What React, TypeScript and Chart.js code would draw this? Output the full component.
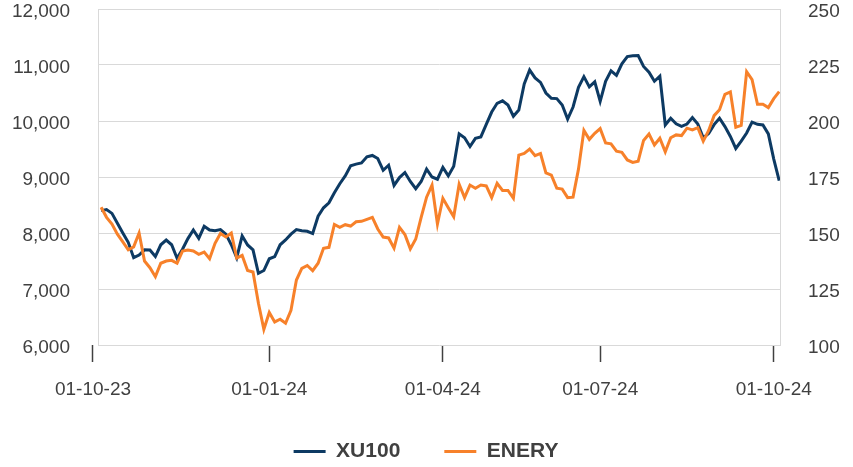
import { useEffect, useRef } from 'react';
import { Chart, registerables } from 'chart.js';

Chart.register(...registerables);

// Trading-day index of the first sample, and spacing (in trading days) between samples
const FIRST_DAY = 3;
const DAY_STEP = 2;

const SERIES_NAMES = ['XU100', 'ENERY'];

// XU100 index level (left axis)
const XU100 = [
  8400, 8420, 8350, 8173, 8000, 7833, 7560, 7607, 7700, 7696,
  7580, 7790, 7875, 7790, 7550, 7710, 7900, 8054, 7905, 8120,
  8054, 8040, 8060, 7980, 7790, 7560, 7950, 7786, 7700, 7280,
  7330, 7540, 7580, 7790, 7875, 7980, 8060, 8042, 8030, 7990,
  8300, 8450, 8540, 8720, 8880, 9020, 9200, 9230, 9250, 9360,
  9385, 9330, 9120, 9210, 8850, 8990, 9080, 8920, 8790, 8920,
  9140, 9000, 8960, 9170, 9020, 9190, 9770, 9700, 9545, 9690,
  9715, 9940, 10160, 10316, 10360, 10286, 10085, 10196, 10660, 10910,
  10770, 10690, 10500, 10405, 10400, 10286, 10035, 10250, 10600, 10792,
  10610, 10700, 10350, 10710, 10895, 10815, 11020, 11150, 11165, 11170,
  10975, 10870, 10710, 10800, 9929, 10048, 9950, 9905, 9946, 10060,
  9945, 9700, 9775, 9935, 10050, 9900, 9725, 9510, 9640, 9785,
  9980, 9940, 9930, 9770, 9320, 8935,
];

// ENERY index level (right axis)
const ENERY = [
  161.5, 157.0, 154.0, 149.5, 146.0, 142.5, 143.8, 150.0, 137.5, 134.5,
  130.5, 136.5, 137.5, 137.8, 136.5, 141.9, 142.4, 142.0, 140.5, 141.5,
  138.5, 145.4, 149.8, 148.2, 150.0, 138.8, 140.0, 133.3, 132.6, 118.6,
  107.0, 114.5, 110.3, 111.5, 109.7, 115.5, 129.0, 134.2, 135.5, 133.2,
  136.5, 143.2, 143.6, 153.8, 152.5, 153.7, 153.1, 155.0, 155.2, 156.1,
  157.0, 151.8, 148.2, 147.8, 143.2, 152.5, 149.3, 142.9, 147.3, 157.0,
  166.0, 171.4, 154.0, 165.5, 161.3, 157.3, 171.8, 165.8, 171.4, 170.0,
  171.4, 171.0, 165.8, 172.2, 169.0, 169.0, 165.5, 184.8, 185.5, 187.5,
  184.5, 185.5, 176.8, 175.8, 170.0, 169.6, 165.8, 166.0, 178.5, 195.8,
  191.8, 194.5, 196.6, 190.2, 189.8, 186.5, 186.0, 182.6, 181.5, 182.0,
  191.3, 194.2, 189.3, 192.3, 186.2, 192.5, 193.8, 193.5, 196.8, 196.0,
  197.0, 191.0, 195.8, 202.4, 205.0, 211.9, 213.0, 197.2, 198.0, 222.0,
  218.5, 207.5, 207.5, 206.0, 210.0, 213.1,
];

// Date ticks (trading-day index) and their labels
const TICK_DAYS = [0, 65, 129, 187, 251];
const TICK_LABELS = ['01-10-23', '01-01-24', '01-04-24', '01-07-24', '01-10-24'];

const X_MIN = 1.85;
const X_MAX = 253.3;

const NAVY = '#0d3a63';
const ORANGE = '#f7812a';
const TEXT = '#404040';
const GRID = '#d9d9d9';
const FONT = "'Liberation Sans', Arial, Helvetica, sans-serif";

const toPoints = (vals: number[]) =>
  vals.map((v, i) => ({ x: FIRST_DAY + i * DAY_STEP, y: v }));

export default function App() {
  const ref = useRef<HTMLCanvasElement | null>(null);

  useEffect(() => {
    if (!ref.current) return;
    const chart = new Chart(ref.current, {
      type: 'line',
      data: {
        datasets: [
          {
            label: SERIES_NAMES[0],
            data: toPoints(XU100),
            borderColor: NAVY,
            backgroundColor: NAVY,
            borderWidth: 3,
            pointRadius: 0,
            tension: 0,
            yAxisID: 'y',
            order: 1,
          },
          {
            label: SERIES_NAMES[1],
            data: toPoints(ENERY),
            borderColor: ORANGE,
            backgroundColor: ORANGE,
            borderWidth: 3,
            pointRadius: 0,
            tension: 0,
            yAxisID: 'y1',
            order: 0,
          },
        ],
      },
      options: {
        responsive: false,
        animation: false,
        events: [],
        layout: { padding: { top: 9, left: 12, right: 13, bottom: 0 } },
        scales: {
          x: {
            type: 'linear',
            min: X_MIN,
            max: X_MAX,
            afterBuildTicks: (scale: any) => {
              scale.ticks = TICK_DAYS.map((v) => ({ value: v }));
            },
            afterFit: (scale: any) => {
              scale.height = 52;
              scale.paddingLeft = 0;
              scale.paddingRight = 0;
            },
            ticks: {
              autoSkip: false,
              maxRotation: 0,
              padding: 18,
              color: TEXT,
              font: { family: FONT, size: 19, lineHeight: 1 },
              callback: (value: any) => {
                const idx = TICK_DAYS.indexOf(Number(value));
                return idx >= 0 ? TICK_LABELS[idx] : '';
              },
            },
            grid: {
              display: true,
              drawOnChartArea: false,
              drawTicks: true,
              tickLength: 17,
              tickColor: TEXT,
              tickWidth: 1.5,
            },
            border: { display: false },
          },
          y: {
            position: 'left',
            min: 6000,
            max: 12000,
            afterFit: (scale: any) => {
              scale.width = 86;
              scale.paddingTop = 0;
              scale.paddingBottom = 0;
            },
            ticks: {
              stepSize: 1000,
              padding: 28,
              labelOffset: 3,
              color: TEXT,
              font: { family: FONT, size: 19, lineHeight: 1 },
              callback: (v: any) => Number(v).toLocaleString('en-US'),
            },
            grid: { color: GRID, lineWidth: 1, drawTicks: false },
            border: { display: true, color: GRID, width: 1 },
          },
          y1: {
            position: 'right',
            min: 100,
            max: 250,
            afterFit: (scale: any) => {
              scale.width = 60;
              scale.paddingTop = 0;
              scale.paddingBottom = 0;
            },
            ticks: {
              stepSize: 25,
              padding: 28,
              labelOffset: 3,
              color: TEXT,
              font: { family: FONT, size: 19, lineHeight: 1 },
            },
            grid: { drawOnChartArea: false, drawTicks: false },
            border: { display: true, color: GRID, width: 1 },
          },
        },
        plugins: {
          tooltip: { enabled: false },
          legend: {
            position: 'bottom',
            maxHeight: 70,
            labels: {
              boxWidth: 32,
              boxHeight: 3,
              padding: 44,
              color: TEXT,
              font: { family: FONT, size: 21, weight: 'bold' },
              sort: (a: any, b: any) => a.datasetIndex - b.datasetIndex,
              generateLabels: (c: any) =>
                (Chart.defaults.plugins.legend.labels as any)
                  .generateLabels(c)
                  .map((it: any) => ({ ...it, lineWidth: 0, fillStyle: it.strokeStyle })),
            },
          },
        },
      } as any,
    });
    return () => chart.destroy();
  }, []);

  return (
    <div style={{ position: 'fixed', left: 0, top: 0, width: 853, height: 467, background: '#fff' }}>
      <canvas ref={ref} width={853} height={467} style={{ display: 'block' }} />
    </div>
  );
}
